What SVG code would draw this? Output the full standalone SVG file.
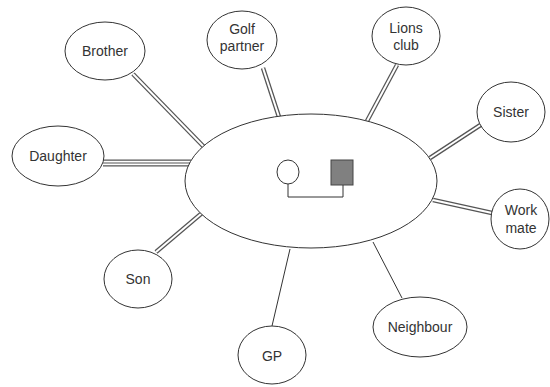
<svg xmlns="http://www.w3.org/2000/svg" width="550" height="387" viewBox="0 0 550 387">
<style>
.n{fill:#fff;stroke:#333;stroke-width:1}
.t{font-family:"Liberation Sans",Arial,sans-serif;font-size:14px;fill:#333;text-anchor:middle}
.dOut{stroke:#555;stroke-width:4.5;fill:none}
.dIn{stroke:#fff;stroke-width:2;fill:none}
.tOut{stroke:#555;stroke-width:7;fill:none}
.tIn{stroke:#fff;stroke-width:4.5;fill:none}
.tMid{stroke:#555;stroke-width:1.2;fill:none}
.s{stroke:#333;stroke-width:1;fill:none}
</style>
<rect width="550" height="387" fill="#fff"/>
<g id="connectors">
<path class="dOut" d="M133,74 L205,148"/><path class="dIn" d="M133,74 L205,148"/>
<path class="tOut" d="M103,163 L191,163"/><path class="tIn" d="M103,163 L191,163"/><path class="tMid" d="M103,163 L191,163"/>
<path class="dOut" d="M263,68 L279,117"/><path class="dIn" d="M263,68 L279,117"/>
<path class="dOut" d="M397,65 L367,121"/><path class="dIn" d="M397,65 L367,121"/>
<path class="dOut" d="M482,124 L430,158"/><path class="dIn" d="M482,124 L430,158"/>
<path class="dOut" d="M433,200 L492,213"/><path class="dIn" d="M433,200 L492,213"/>
<path class="dOut" d="M156,252 L202,213"/><path class="dIn" d="M156,252 L202,213"/>
<path class="s" d="M290,249 L272,326"/>
<path class="s" d="M373,242 L402,298"/>
</g>
<g id="center">
<ellipse class="n" cx="311" cy="181" rx="126" ry="67"/>
<ellipse class="n" cx="288" cy="172" rx="11" ry="12"/>
<rect x="331" y="160" width="22" height="25" fill="#808080" stroke="#444" stroke-width="1"/>
<path class="s" d="M288,184 V197 H343 V185" stroke="#555"/>
</g>
<g id="brother"><ellipse class="n" cx="105" cy="51" rx="40" ry="29"/><text class="t" x="105" y="56">Brother</text></g>
<g id="daughter"><ellipse class="n" cx="58" cy="156" rx="46" ry="30"/><text class="t" x="58" y="161">Daughter</text></g>
<g id="golf"><ellipse class="n" cx="242" cy="40" rx="35" ry="29"/><text class="t" x="242" y="34">Golf</text><text class="t" x="242" y="51">partner</text></g>
<g id="lions"><ellipse class="n" cx="406" cy="36" rx="34" ry="29"/><text class="t" x="406" y="33">Lions</text><text class="t" x="406" y="50">club</text></g>
<g id="sister"><ellipse class="n" cx="511" cy="112" rx="34" ry="30"/><text class="t" x="511" y="117">Sister</text></g>
<g id="workmate"><ellipse class="n" cx="520" cy="219" rx="29" ry="30"/><text class="t" x="521" y="215">Work</text><text class="t" x="521" y="233">mate</text></g>
<g id="son"><ellipse class="n" cx="138" cy="279" rx="34" ry="29"/><text class="t" x="138" y="284">Son</text></g>
<g id="gp"><ellipse class="n" cx="272" cy="355" rx="34" ry="29"/><text class="t" x="272" y="361">GP</text></g>
<g id="neighbour"><ellipse class="n" cx="420" cy="327" rx="47" ry="30"/><text class="t" x="420" y="332">Neighbour</text></g>
</svg>
